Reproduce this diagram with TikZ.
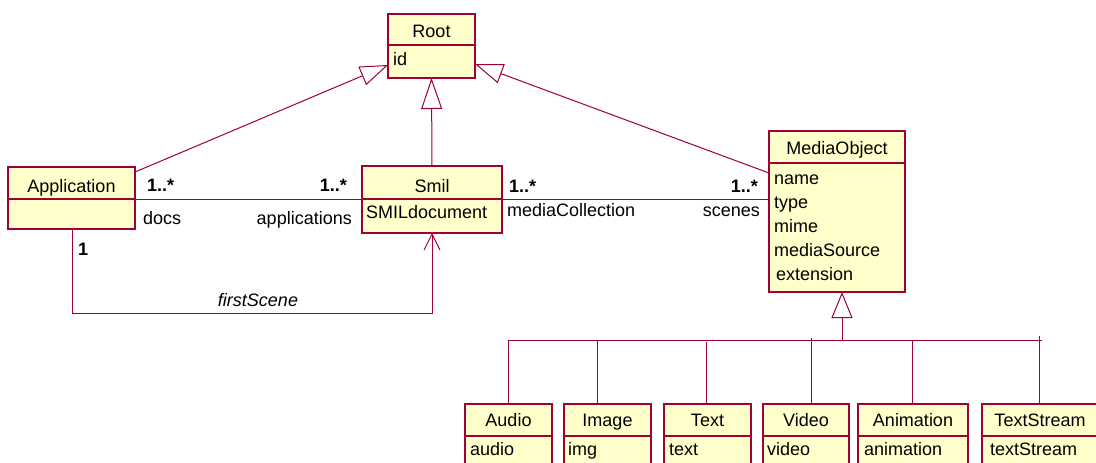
\documentclass[tikz,border=0pt]{standalone}
\usepackage{fontspec}
\setmainfont{Liberation Sans}
\usetikzlibrary{arrows.meta,calc}
\definecolor{umlred}{RGB}{160,0,50}
\definecolor{umlfill}{RGB}{255,255,204}
\newcommand\umlbox[6]{%
  \node[cls,anchor=north west,minimum width={(#4-#2)*1pt},minimum height={(#5-#3)*1pt}] (#1) at (#2,#3) {};
  \draw[divline] (#2,#6) -- (#4,#6);}
\begin{document}
\begin{tikzpicture}[x=1pt,y=-1pt,
  cls/.style={draw=umlred,fill=umlfill,line width=1.2pt,rectangle,inner sep=0pt,outer sep=0pt},
  divline/.style={draw=umlred,line width=1.2pt},
  conn/.style={draw=umlred,line width=1pt},
  txt/.style={inner sep=0pt,font=\fontsize{18}{21}\selectfont},
  mult/.style={txt,font=\fontsize{18}{21}\selectfont\bfseries},
]
\useasboundingbox (0,0) rectangle (1096,463);
\clip (0,0) rectangle (1096,463);

% class boxes
\umlbox{root}{388}{14}{475}{78}{45}
\umlbox{app}{8}{167}{135}{229}{199}
\umlbox{smil}{362}{166}{502}{233}{199}
\umlbox{mo}{769}{131}{905}{292}{163}
\umlbox{audio}{465}{404}{552}{480}{436}
\umlbox{image}{564}{404}{651}{480}{436}
\umlbox{text}{664}{404}{751}{480}{436}
\umlbox{video}{763}{404}{849}{480}{436}
\umlbox{anim}{858}{404}{968}{480}{436}
\umlbox{tstream}{982}{404}{1110}{480}{436}

% class texts
\node[txt,anchor=base] (tRoot) at (431.5,37) {Root};
\node[txt,anchor=base west] (aRoot) at (393,65) {id};
\node[txt,anchor=base] (tApp) at (71.5,192) {Application};
\node[txt,anchor=base] (tSmil) at (432,192) {Smil};
\node[txt,anchor=base west] (aSmil) at (366,218) {SMILdocument};
\node[txt,anchor=base] (tMO) at (837,154) {MediaObject};
\node[txt,anchor=base west] (aMO1) at (774,184) {name};
\node[txt,anchor=base west] (aMO2) at (774,208) {type};
\node[txt,anchor=base west] (aMO3) at (774,232) {mime};
\node[txt,anchor=base west] (aMO4) at (774,256) {mediaSource};
\node[txt,anchor=base west] (aMO5) at (776,280) {extension};
\node[txt,anchor=base] (tAudio) at (508.5,426) {Audio};
\node[txt,anchor=base west] (aAudio) at (470,455) {audio};
\node[txt,anchor=base] (tImage) at (607.5,426) {Image};
\node[txt,anchor=base west] (aImage) at (568,455) {img};
\node[txt,anchor=base] (tText) at (707.5,426) {Text};
\node[txt,anchor=base west] (aText) at (669,455) {text};
\node[txt,anchor=base] (tVideo) at (806,426) {Video};
\node[txt,anchor=base west] (aVideo) at (767,455) {video};
\node[txt,anchor=base] (tAnim) at (913,426) {Animation};
\node[txt,anchor=base west] (aAnim) at (864,455) {animation};
\node[txt,anchor=base] (tTS) at (1040,426) {TextStream};
\node[txt,anchor=base west] (aTS) at (990,455) {textStream};

% generalizations to Root
\draw[conn,-{Triangle[open,length=28pt,width=20pt]}] ($(app.north east)+(0,5)$) -- ($(root.north west)+(0,51)$);
\draw[conn,-{Triangle[open,length=31pt,width=21pt]}] (smil.north) -- (root.south);
\draw[conn,-{Triangle[open,length=28pt,width=20pt]}] ($(mo.north west)+(0,42)$) -- ($(root.north east)+(0,50)$);

% associations
\draw[conn] ($(app.north east)+(0,32)$) -- ($(smil.north west)+(0,33)$);
\draw[conn] ($(smil.north east)+(0,33)$) -- ($(mo.north west)+(0,68)$);
\draw[conn,-{Straight Barb[length=16pt,width=16pt]}] ($(app.south west)+(64,0)$) -- ++(0,84) -| (smil.south);

% association labels
\node[mult,anchor=base west] (m1) at (147,191) {1..*};
\node[txt,anchor=base west] (r1) at (143,224) {docs};
\node[mult,anchor=base east] (m2) at (347,191) {1..*};
\node[txt,anchor=base east] (r2) at (352,224) {applications};
\node[mult,anchor=base west] (m3) at (509,192) {1..*};
\node[txt,anchor=base west] (r3) at (507,216) {mediaCollection};
\node[mult,anchor=base east] (m4) at (758,192) {1..*};
\node[txt,anchor=base east] (r4) at (760,216) {scenes};
\node[mult,anchor=base west] (m5) at (78,255) {1};
\node[txt,anchor=base,font=\fontsize{18}{21}\selectfont\itshape] (r5) at (258,306) {firstScene};

% MediaObject specializations
\coordinate (bar) at (842,340);
\coordinate (barL) at (508,340);
\coordinate (barR) at (1042,340);
\draw[conn,-{Triangle[open,length=26pt,width=21pt]}] (bar) -- ($(mo.south)+(5,0)$);
\draw[conn] (barL) -- (barR);
\coordinate (jAudio) at (508,340);
\coordinate (jImage) at (597,340);
\coordinate (jText) at (706,342);
\coordinate (jVideo) at (811,338);
\coordinate (jAnim) at (912,340);
\coordinate (jTS) at (1039,336);
\draw[conn] (jAudio) -- (jAudio |- audio.north);
\draw[conn] (jImage) -- (jImage |- image.north);
\draw[conn] (jText) -- (jText |- text.north);
\draw[conn] (jVideo) -- (jVideo |- video.north);
\draw[conn] (jAnim) -- (jAnim |- anim.north);
\draw[conn] (jTS) -- (jTS |- tstream.north);
\end{tikzpicture}
\end{document}
